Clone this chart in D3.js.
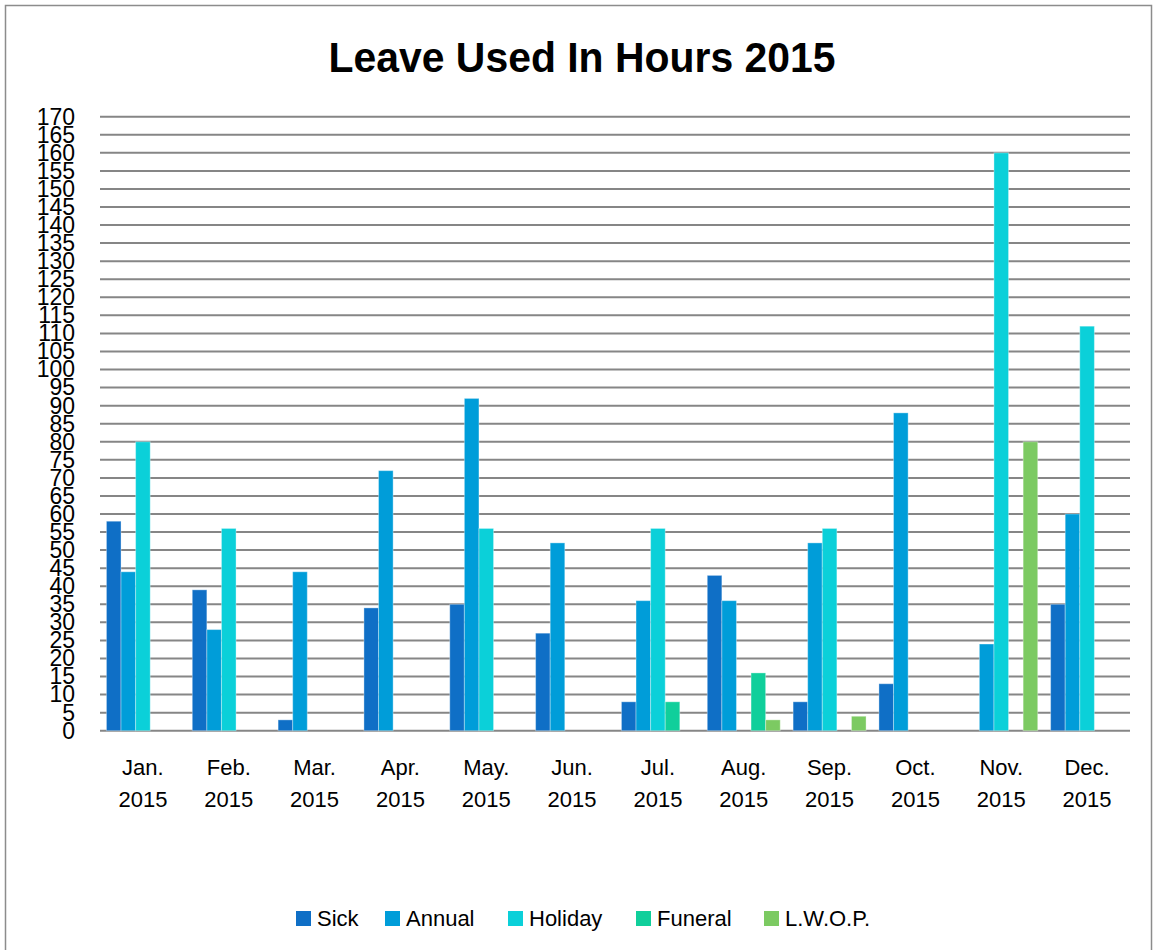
<!DOCTYPE html>
<html>
<head>
<meta charset="utf-8">
<script src="https://cdn.jsdelivr.net/npm/d3@7"></script>
<style>
  body { margin: 0; background: #fff; }
  text { font-family: "Liberation Sans", Arial, sans-serif; fill: #000; }
</style>
</head>
<body>
<svg id="chart" width="1158" height="950"></svg>
<script>
// data
var months = ["Jan.", "Feb.", "Mar.", "Apr.", "May.", "Jun.", "Jul.", "Aug.", "Sep.", "Oct.", "Nov.", "Dec."];
var series = ["Sick", "Annual", "Holiday", "Funeral", "L.W.O.P."];
var sick    = [58, 39, 3, 34, 35, 27, 8, 43, 8, 13, 0, 35];
var annual  = [44, 28, 44, 72, 92, 52, 36, 36, 52, 88, 24, 60];
var holiday = [80, 56, 0, 0, 56, 0, 56, 0, 56, 0, 160, 112];
var funeral = [0, 0, 0, 0, 0, 0, 8, 16, 0, 0, 0, 0];
var lwop    = [0, 0, 0, 0, 0, 0, 0, 3, 4, 0, 80, 0];
var yTicks = d3.range(0, 171, 5);
var colors = ["#0F6FC6", "#009DD9", "#0BD0D9", "#10CF9B", "#7CCA62"];

var values = [sick, annual, holiday, funeral, lwop];

var svg = d3.select("#chart");

// outer frame
svg.append("rect")
    .attr("x", 5.5).attr("y", 5.5)
    .attr("width", 1146).attr("height", 960)
    .attr("fill", "none")
    .attr("stroke", "#8c8c8c")
    .attr("stroke-width", 1.5);

// title
svg.append("text")
    .attr("x", 582).attr("y", 72)
    .attr("text-anchor", "middle")
    .attr("font-weight", "bold")
    .attr("font-size", 42)
    .attr("textLength", 507)
    .attr("lengthAdjust", "spacingAndGlyphs")
    .text("Leave Used In Hours 2015");

// plot area (window.top is reserved, so no "top" here)
var plotL = 100, plotR = 1130, plotT = 116.7, plotB = 730.7;

var x0 = d3.scaleBand().domain(months).range([plotL, plotR])
    .paddingInner(0.15).paddingOuter(0.075);
var x1 = d3.scaleBand().domain(series).range([0, x0.bandwidth()]);
var y = d3.scaleLinear().domain([0, 170]).range([plotB, plotT]);

// gridlines
svg.append("g").selectAll("line")
    .data(yTicks)
    .enter().append("line")
    .attr("x1", plotL).attr("x2", plotR)
    .attr("y1", function(d) { return y(d); })
    .attr("y2", function(d) { return y(d); })
    .attr("stroke", "#868686")
    .attr("stroke-width", 2);

// y labels
var yAxis = d3.axisLeft(y).tickValues(yTicks).tickSize(0).tickPadding(0);
var yg = svg.append("g")
    .attr("transform", "translate(75,0)")
    .call(yAxis);
yg.select(".domain").remove();
yg.selectAll("text")
    .attr("font-size", 23)
    .attr("font-family", "Liberation Sans, Arial, sans-serif")
    .attr("fill", "#000");

// bars
var groups = svg.append("g").selectAll("g")
    .data(months)
    .enter().append("g")
    .attr("transform", function(d) { return "translate(" + x0(d) + ",0)"; });

groups.selectAll("rect")
    .data(function(m, i) {
        return series.map(function(s, j) { return { s: s, j: j, v: values[j][i] }; })
                     .filter(function(d) { return d.v > 0; });
    })
    .enter().append("rect")
    .attr("x", function(d) { return x1(d.s); })
    .attr("width", x1.bandwidth())
    .attr("y", function(d) { return y(d.v); })
    .attr("height", function(d) { return y(0) - y(d.v); })
    .attr("fill", function(d) { return colors[d.j]; })
    .attr("stroke", "rgba(255,255,255,0.35)")
    .attr("stroke-width", 1);

// x labels (two lines)
var xl = svg.append("g").selectAll("text")
    .data(months)
    .enter().append("text")
    .attr("text-anchor", "middle")
    .attr("font-size", 22)
    .attr("x", function(d) { return x0(d) + x0.bandwidth() / 2; })
    .attr("y", 775);
xl.append("tspan").text(function(d) { return d; });
xl.append("tspan")
    .attr("x", function(d) { return x0(d) + x0.bandwidth() / 2; })
    .attr("dy", 32)
    .text("2015");

// legend
var legendX = [296, 385, 508, 636, 764];
var lg = svg.append("g").selectAll("g")
    .data(series)
    .enter().append("g")
    .attr("transform", function(d, i) { return "translate(" + legendX[i] + ",911)"; });
lg.append("rect")
    .attr("width", 15).attr("height", 15)
    .attr("fill", function(d, i) { return colors[i]; });
lg.append("text")
    .attr("x", 21).attr("y", 15)
    .attr("font-size", 22)
    .text(function(d) { return d; });
</script>
</body>
</html>
